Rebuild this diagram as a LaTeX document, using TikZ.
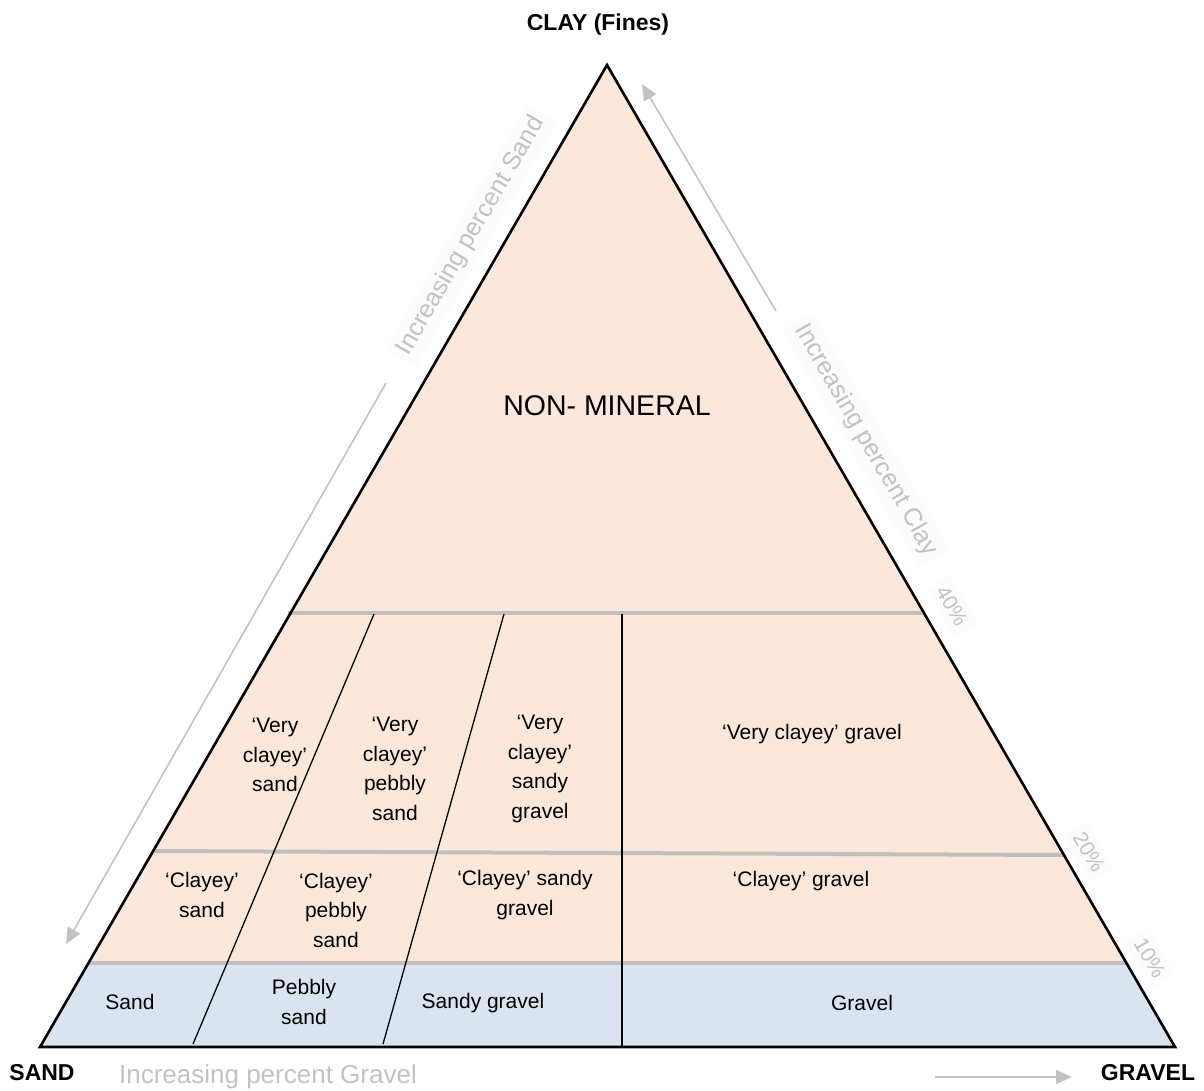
\documentclass[tikz,border=0pt]{standalone}
\usepackage{fontspec}
\setmainfont{Liberation Sans}
\usetikzlibrary{arrows.meta}

\definecolor{claybg}{HTML}{FBE8DA}
\definecolor{mineralbg}{HTML}{DAE3F0}
\definecolor{bandline}{HTML}{BFBFBF}
\definecolor{hint}{HTML}{C2C2C2}
\definecolor{hintbox}{HTML}{FCFCFC}

\tikzset{
  zone/.style={align=center, font=\fontsize{21}{29.5}\selectfont, inner sep=0pt},
  corner/.style={font=\bfseries\fontsize{23}{27}\selectfont, inner sep=0pt},
  hinttext/.style={text=hint, font=\fontsize{26}{28}\selectfont, inner sep=0pt},
  hintrot/.style={text=hint, fill=hintbox, font=\fontsize{25}{28}\selectfont, inner sep=6pt},
  pct/.style={text=hint, fill=hintbox, font=\fontsize{21}{24}\selectfont, inner sep=6pt},
  band/.style={draw=bandline, line width=4pt},
  divider/.style={draw=black, line width=1.3pt},
  hintarrow/.style={draw=hint, line width=1.6pt, -{Triangle[length=16pt,width=14pt]}},
  outline/.style={draw=black, line width=2.6pt, line join=miter},
}

\begin{document}
\begin{tikzpicture}[x=1pt, y=-1pt]
  \useasboundingbox (0,0) rectangle (1204,1090);

  % corners of the ternary triangle
  \coordinate (A) at (607,65);
  \coordinate (L) at (40,1047);
  \coordinate (R) at (1175,1047);

  % ends of the class boundaries on the two sides
  \coordinate (f40l) at (288,613);  \coordinate (f40r) at (925,613);
  \coordinate (f20l) at (153,851);  \coordinate (f20r) at (1064,855);
  \coordinate (f10l) at (88.5,963); \coordinate (f10r) at (1126.5,963);

  % tops and feet of the gravel/sand dividers
  \coordinate (d1t) at (374,614); \coordinate (d1b) at (193,1044);
  \coordinate (d2t) at (504,614); \coordinate (d2b) at (383,1044);
  \coordinate (d3t) at (622,614); \coordinate (d3b) at (622,1047);

  % fills: clayey part above 10 %, clean part below
  \fill[claybg] (A) -- (f10r) -- (f10l) -- cycle;
  \fill[mineralbg] (f10l) -- (f10r) -- (R) -- (L) -- cycle;

  % fines boundaries
  \draw[band] (f40l) -- (f40r);
  \draw[band] (f20l) -- (f20r);
  \draw[band] (f10l) -- (f10r);

  % gravel:sand dividers
  \draw[divider] (d1t) -- (d1b);
  \draw[divider] (d2t) -- (d2b);
  \draw[divider] (d3t) -- (d3b);

  % triangle outline
  \draw[outline] (A) -- (R) -- (L) -- cycle;

  % class names
  \node[zone, font=\fontsize{28.5}{32}\selectfont] (nonmin) at (607,406) {NON- MINERAL};
  \node[zone] (vcs)  at (275,755) {‘Very\\clayey’\\sand};
  \node[zone] (vcps) at (395,769) {‘Very\\clayey’\\pebbly\\sand};
  \node[zone] (vcsg) at (540,769) {‘Very\\clayey’\\sandy\\gravel};
  \node[zone] (vcg)  at (812,734) {‘Very clayey’ gravel};
  \node[zone] (cs)   at (202,895) {‘Clayey’\\sand};
  \node[zone] (cps)  at (336,910) {‘Clayey’\\pebbly\\sand};
  \node[zone] (csg)  at (525,895) {‘Clayey’ sandy\\gravel};
  \node[zone] (cg)   at (801,881) {‘Clayey’ gravel};
  \node[zone] (sd)   at (130,1002) {Sand};
  \node[zone] (psd)  at (304,1002) {Pebbly\\sand};
  \node[zone] (sgr)  at (483,1003) {Sandy gravel};
  \node[zone] (gr)   at (862,1003) {Gravel};

  % end members
  \node[corner] (clay)   at (598,25)   {CLAY (Fines)};
  \node[corner] (sand)   at (42,1073)  {SAND};
  \node[corner] (gravel) at (1148,1073) {GRAVEL};

  % axis hints
  \node[hinttext] (hgr) at (268,1077) {Increasing percent Gravel};
  \node[hintrot, rotate=60]  (hsa) at (471,236) {Increasing percent Sand};
  \node[hintrot, rotate=-60] (hcl) at (866,440) {Increasing percent Clay};

  \node[pct, rotate=-60] (p40) at (952,606)  {40\%};
  \node[pct, rotate=-60] (p20) at (1089,852) {20\%};
  \node[pct, rotate=-60] (p10) at (1150,958) {10\%};

  % direction arrows
  \coordinate (gs) at (935,1077); \coordinate (ge) at (1072,1077);
  \coordinate (ss) at (386,383);  \coordinate (se) at (66,944);
  \coordinate (cs0) at (776,311); \coordinate (ce) at (642,84);
  \draw[hintarrow] (gs) -- (ge);
  \draw[hintarrow] (ss) -- (se);
  \draw[hintarrow] (cs0) -- (ce);
\end{tikzpicture}
\end{document}
